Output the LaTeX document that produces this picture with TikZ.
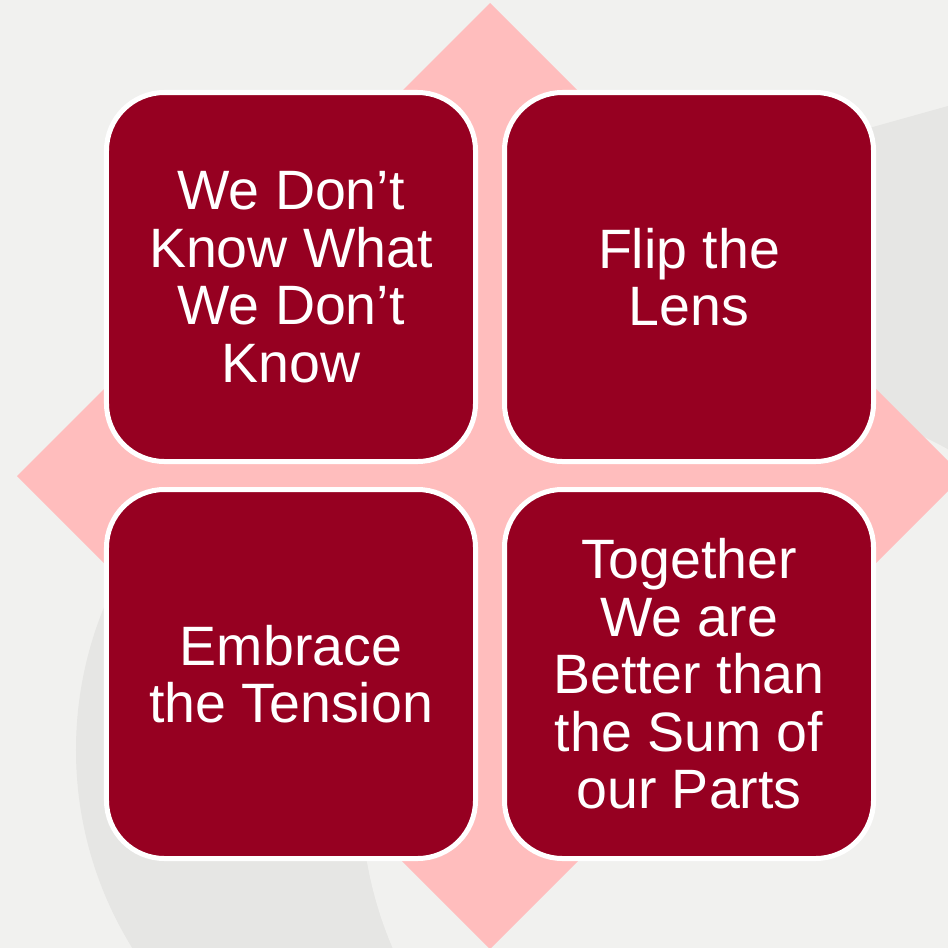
\documentclass[tikz,border=0pt]{standalone}
\usepackage{fontspec}
\setmainfont{Liberation Sans}
\definecolor{bgcol}{HTML}{F1F1EF}
\definecolor{ringgray}{HTML}{E6E6E4}
\definecolor{diapink}{HTML}{FFBDBD}
\definecolor{boxred}{HTML}{960021}
\begin{document}
\begin{tikzpicture}[x=1bp,y=-1bp,
  box/.style={rectangle, rounded corners=58bp, draw=white, line width=5bp,
    fill=boxred, minimum width=369bp, minimum height=369bp, text=white,
    align=center, inner sep=0pt, font=\fontsize{55.5bp}{57.5bp}\selectfont}]
\useasboundingbox (0,0) rectangle (948,948);
\begin{scope}
  \clip (0,0) rectangle (948,948);
  \fill[bgcol] (0,0) rectangle (948,948);
  \fill[ringgray] (452,750) circle[radius=376bp];
  \fill[ringgray] (830,139) -- (948,106) -- (948,560) -- (830,560) -- cycle;
  \fill[bgcol] (755,793) circle[radius=394bp];
  \fill[diapink] (490,3) -- (963,476) -- (490,949) -- (17,476) -- cycle;
\end{scope}
\node[box] (tl) at (291,277) {We Don’t\\Know What\\We Don’t\\Know};
\node[box] (tr) at (689,277) {Flip the\\Lens};
\node[box] (bl) at (291,674) {Embrace\\the Tension};
\node[box] (br) at (689,674) {Together\\We are\\Better than\\the Sum of\\our Parts};
\end{tikzpicture}
\end{document}
